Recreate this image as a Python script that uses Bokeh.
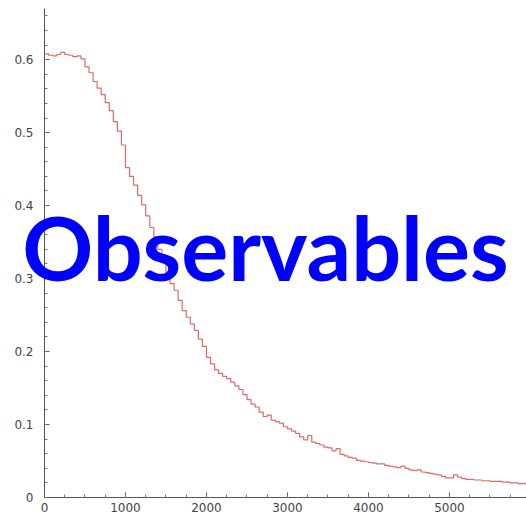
import numpy as np
from bokeh.plotting import figure
from bokeh.models import Range1d, SingleIntervalTicker, Label
from bokeh.embed import file_html
from bokeh.resources import INLINE

# histogram: bin width 50, from 0 to 6000
bin_width = 50
x_start = 0
values = [
    0.608, 0.606, 0.605, 0.607, 0.610, 0.607, 0.606, 0.604, 0.605, 0.601,
    0.590, 0.582, 0.570, 0.561, 0.552, 0.541, 0.530, 0.515, 0.502, 0.483,
    0.452, 0.440, 0.428, 0.414, 0.401, 0.386, 0.370, 0.357, 0.340, 0.326,
    0.304, 0.293, 0.284, 0.270, 0.256, 0.247, 0.238, 0.229, 0.217, 0.207,
    0.192, 0.183, 0.175, 0.170, 0.166, 0.163, 0.158, 0.153, 0.148, 0.141,
    0.134, 0.128, 0.124, 0.117, 0.111, 0.113, 0.106, 0.104, 0.102, 0.097,
    0.094, 0.091, 0.088, 0.083, 0.079, 0.085, 0.076, 0.074, 0.072, 0.069,
    0.068, 0.064, 0.067, 0.059, 0.057, 0.055, 0.054, 0.051, 0.050, 0.049,
    0.048, 0.047, 0.046, 0.046, 0.044, 0.043, 0.042, 0.041, 0.043, 0.040,
    0.038, 0.037, 0.038, 0.035, 0.034, 0.033, 0.032, 0.031, 0.029, 0.027,
    0.027, 0.031, 0.028, 0.026, 0.025, 0.025, 0.024, 0.024, 0.023, 0.023,
    0.022, 0.022, 0.022, 0.021, 0.021, 0.020, 0.020, 0.019, 0.019, 0.018,
]
title_text = "Observables"

edges = [x_start + i * bin_width for i in range(len(values) + 1)]
ys = values + [values[-1]]

p = figure(width=526, height=516, output_backend="svg", toolbar_location=None,
           x_range=Range1d(-543, 5951), y_range=Range1d(-0.026, 0.681),
           min_border=0)
p.outline_line_color = None
p.grid.visible = False
p.background_fill_color = "white"
p.border_fill_color = "white"

p.step(edges, ys, mode="after", line_color="#e06a6a", line_width=1.2)

for ax in (p.xaxis[0], p.yaxis[0]):
    ax.fixed_location = 0
    ax.axis_line_color = "#555555"
    ax.major_tick_line_color = "#555555"
    ax.minor_tick_line_color = "#777777"
    ax.major_tick_in = 5
    ax.major_tick_out = 0
    ax.minor_tick_in = 3
    ax.minor_tick_out = 0
    ax.major_label_text_font = "DejaVu Sans"
    ax.major_label_text_font_size = "12px"
    ax.major_label_text_color = "#444444"

p.xaxis.ticker = SingleIntervalTicker(interval=1000, num_minor_ticks=4)
p.yaxis.ticker = SingleIntervalTicker(interval=0.1, num_minor_ticks=5)
p.xaxis.bounds = (0, 6000)
p.yaxis.bounds = (0, 0.67)
p.xaxis.major_label_standoff = 5
p.yaxis.major_label_standoff = 11

lbl = Label(x=2728, y=0.343, text=title_text, text_align="center",
            text_baseline="alphabetic", text_font="Lato", text_font_style="bold",
            text_font_size="88px", text_color="#0000ff")
p.add_layout(lbl)

open("out.html", "w").write(file_html(p, INLINE))
